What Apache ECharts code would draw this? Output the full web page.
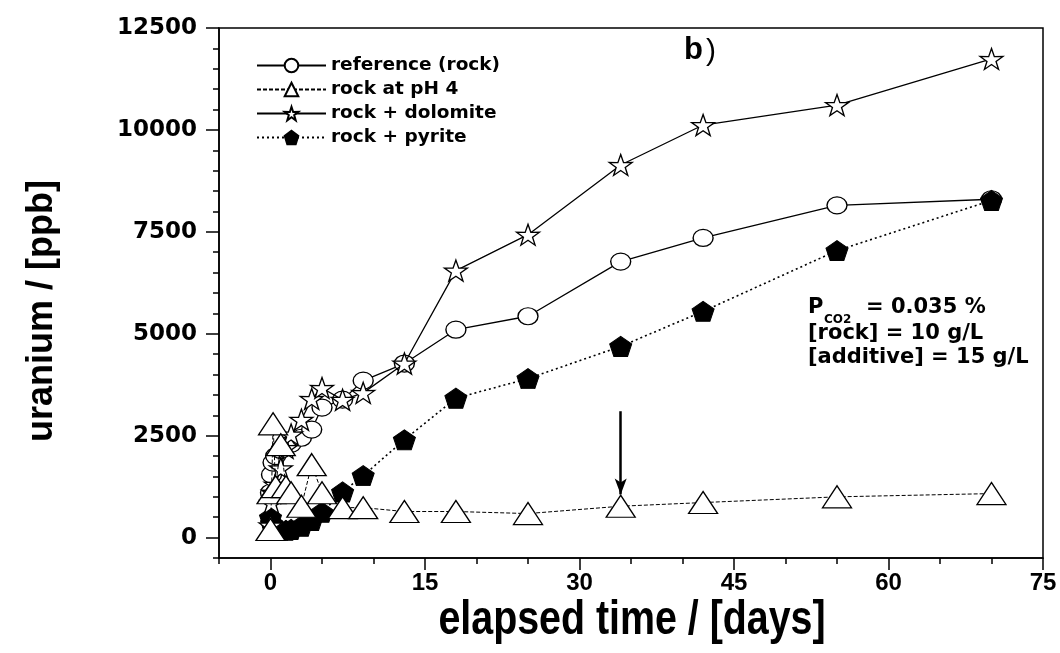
<!DOCTYPE html>
<html><head><meta charset="utf-8">
<script src="https://cdn.jsdelivr.net/npm/echarts@6/dist/echarts.min.js"></script>
<style>html,body{margin:0;padding:0;background:#fff}#c{width:1060px;height:653px}</style>
</head><body><div id="c"></div>
<script>
// elapsed time (days)
const days = [0, 0.1, 0.25, 0.5, 1, 1.5, 2, 3, 4, 5, 7, 9, 13, 18, 25, 34, 42, 55, 70];
// uranium (ppb)
const referenceRock = [1100, 1545, 1840, 2000, 2150, 2240, 2300, 2450, 2650, 3190, 3385, 3850, 4270, 5100, 5430, 6770, 7350, 8150, 8300];
const rockPH4 = [200, 1100, 2790, 1250, 2280, 1250, 1100, 770, 1790, 1100, 735, 735, 640, 640, 590, 770, 860, 1000, 1080];
const rockDolomite = [300, 850, 1100, 1300, 1700, 2200, 2530, 2890, 3400, 3670, 3380, 3550, 4270, 6550, 7430, 9140, 10120, 10610, 11740];
const rockPyrite = [490, 350, 250, 200, 180, 180, 200, 280, 420, 620, 1120, 1520, 2400, 3420, 3900, 4690, 5550, 7040, 8270];
// tick labels
const xTickLabels = [0, 15, 30, 45, 60, 75];
const yTickLabels = [0, 2500, 5000, 7500, 10000, 12500];
// arrow annotation (day, from ppb, to ppb)
const arrowDay = 34, arrowFrom = 3100, arrowTo = 1060;

const pairs = arr => days.map((d, i) => [d, arr[i]]);
const STAR = 'path://M50,0 L61.8,35.1 L97.6,34.5 L68.8,56 L79.4,90.5 L50,69.5 L20.6,90.5 L31.2,56 L2.4,34.5 L38.2,35.1 Z';
const PENTA = 'path://M50,0 L100,38 L81,100 L19,100 L0,38 Z';

const chart = echarts.init(document.getElementById('c'), null, {renderer: 'canvas'});
const black = '#000';
const boldSans = "'Liberation Sans', Arial, sans-serif";
const dv = "'DejaVu Sans', sans-serif";

chart.setOption({
  animation: false,
  backgroundColor: '#fff',
  grid: {left: 219, right: 17, top: 28, bottom: 95, show: true, borderColor: black, borderWidth: 1.5, backgroundColor: 'transparent'},
  xAxis: [
    {type: 'value', min: -5, max: 75, interval: 5, position: 'bottom',
     axisLine: {onZero: false, lineStyle: {color: black, width: 1.5}},
     axisTick: {length: 6, lineStyle: {color: black, width: 1.5}},
     axisLabel: {customValues: xTickLabels, formatter: v => String(v), color: black, fontWeight: 'bold', fontSize: 24,
                 fontFamily: "'Liberation Sans Narrow', 'Arial Narrow', " + boldSans, margin: 13},
     splitLine: {show: false}},
    {type: 'value', min: -5, max: 75, position: 'bottom',
     axisLine: {show: false, onZero: false},
     axisTick: {customValues: xTickLabels, length: 12, lineStyle: {color: black, width: 1.5}},
     axisLabel: {show: false}, splitLine: {show: false}}
  ],
  yAxis: [
    {type: 'value', min: -500, max: 12500, interval: 500, position: 'left',
     axisLine: {show: true, onZero: false, lineStyle: {color: black, width: 1.5}},
     axisTick: {show: true, length: 6, lineStyle: {color: black, width: 1.5}},
     axisLabel: {customValues: yTickLabels, formatter: v => String(v), color: black, fontWeight: 'bold', fontSize: 23, fontFamily: dv, margin: 22},
     splitLine: {show: false}},
    {type: 'value', min: -500, max: 12500, position: 'left',
     axisLine: {show: false, onZero: false},
     axisTick: {show: true, customValues: yTickLabels, length: 13, lineStyle: {color: black, width: 1.5}},
     axisLabel: {show: false}, splitLine: {show: false}}
  ],
  legend: {
    orient: 'vertical', left: 251, top: 51, itemWidth: 69, itemHeight: 17, itemGap: 5,
    data: ['reference (rock)', 'rock at pH 4', 'rock + dolomite', 'rock + pyrite'],
    textStyle: {color: black, fontWeight: 'bold', fontSize: 18.5, fontFamily: dv, padding: [0, 0, 0, 0]},
    selectedMode: false
  },
  series: [
    {name: 'reference (rock)', type: 'line', data: pairs(referenceRock), symbol: 'circle', symbolSize: [20, 17],
     itemStyle: {color: '#fff', borderColor: black, borderWidth: 1.3},
     lineStyle: {color: black, width: 1.3, type: 'solid'}, z: 2},
    {name: 'rock + pyrite', type: 'line', data: pairs(rockPyrite), symbol: PENTA, symbolSize: [22, 20],
     itemStyle: {color: black, borderColor: black, borderWidth: 1},
     lineStyle: {color: black, width: 1.6, type: [2, 3]}, z: 3},
    {name: 'rock + dolomite', type: 'line', data: pairs(rockDolomite), symbol: STAR, symbolSize: [23, 21],
     itemStyle: {color: '#fff', borderColor: black, borderWidth: 1.3},
     lineStyle: {color: black, width: 1.3, type: 'solid'}, z: 4},
    {name: 'rock at pH 4', type: 'line', data: pairs(rockPH4), symbol: 'triangle', symbolSize: [29, 22],
     itemStyle: {color: '#fff', borderColor: black, borderWidth: 1.3},
     lineStyle: {color: black, width: 1, type: [4, 2]}, z: 5,
     markLine: {silent: true, symbol: ['none', 'arrow'], symbolSize: [9, 16], animation: false,
       lineStyle: {color: black, width: 2.5, type: 'solid'}, label: {show: false},
       emphasis: {disabled: true},
       data: [[{coord: [arrowDay, arrowFrom]}, {coord: [arrowDay, arrowTo]}]]}}
  ],
  graphic: [
    {type: 'text', x: 42, y: 311, rotation: Math.PI / 2,
     style: {text: 'uranium / [ppb]', font: "bold 36px " + boldSans, fill: black, textAlign: 'center', textVerticalAlign: 'middle'}},
    {type: 'text', x: 632, y: 621, scaleX: 0.82,
     style: {text: 'elapsed time / [days]', font: "bold 48px " + boldSans, fill: black, textAlign: 'center', textVerticalAlign: 'middle'}},
    {type: 'text', x: 684, y: 50, style: {text: 'b', font: "bold 31px " + boldSans, fill: black, textVerticalAlign: 'middle'}},
    {type: 'text', x: 706, y: 52, style: {text: ')', font: "30px " + boldSans, fill: black, textVerticalAlign: 'middle'}},
    {type: 'text', x: 808, y: 308, style: {text: 'P', font: "bold 21px " + dv, fill: black, textVerticalAlign: 'middle'}},
    {type: 'text', x: 824, y: 320, style: {text: 'CO2', font: "bold 12px " + dv, fill: black, textVerticalAlign: 'middle'}},
    {type: 'text', x: 866, y: 308, style: {text: '= 0.035 %', font: "bold 21px " + dv, fill: black, textVerticalAlign: 'middle'}},
    {type: 'text', x: 808, y: 334, style: {text: '[rock] = 10 g/L', font: "bold 21px " + dv, fill: black, textVerticalAlign: 'middle'}},
    {type: 'text', x: 808, y: 358, style: {text: '[additive] = 15 g/L', font: "bold 21px " + dv, fill: black, textVerticalAlign: 'middle'}}
  ]
});
</script>
</body></html>
